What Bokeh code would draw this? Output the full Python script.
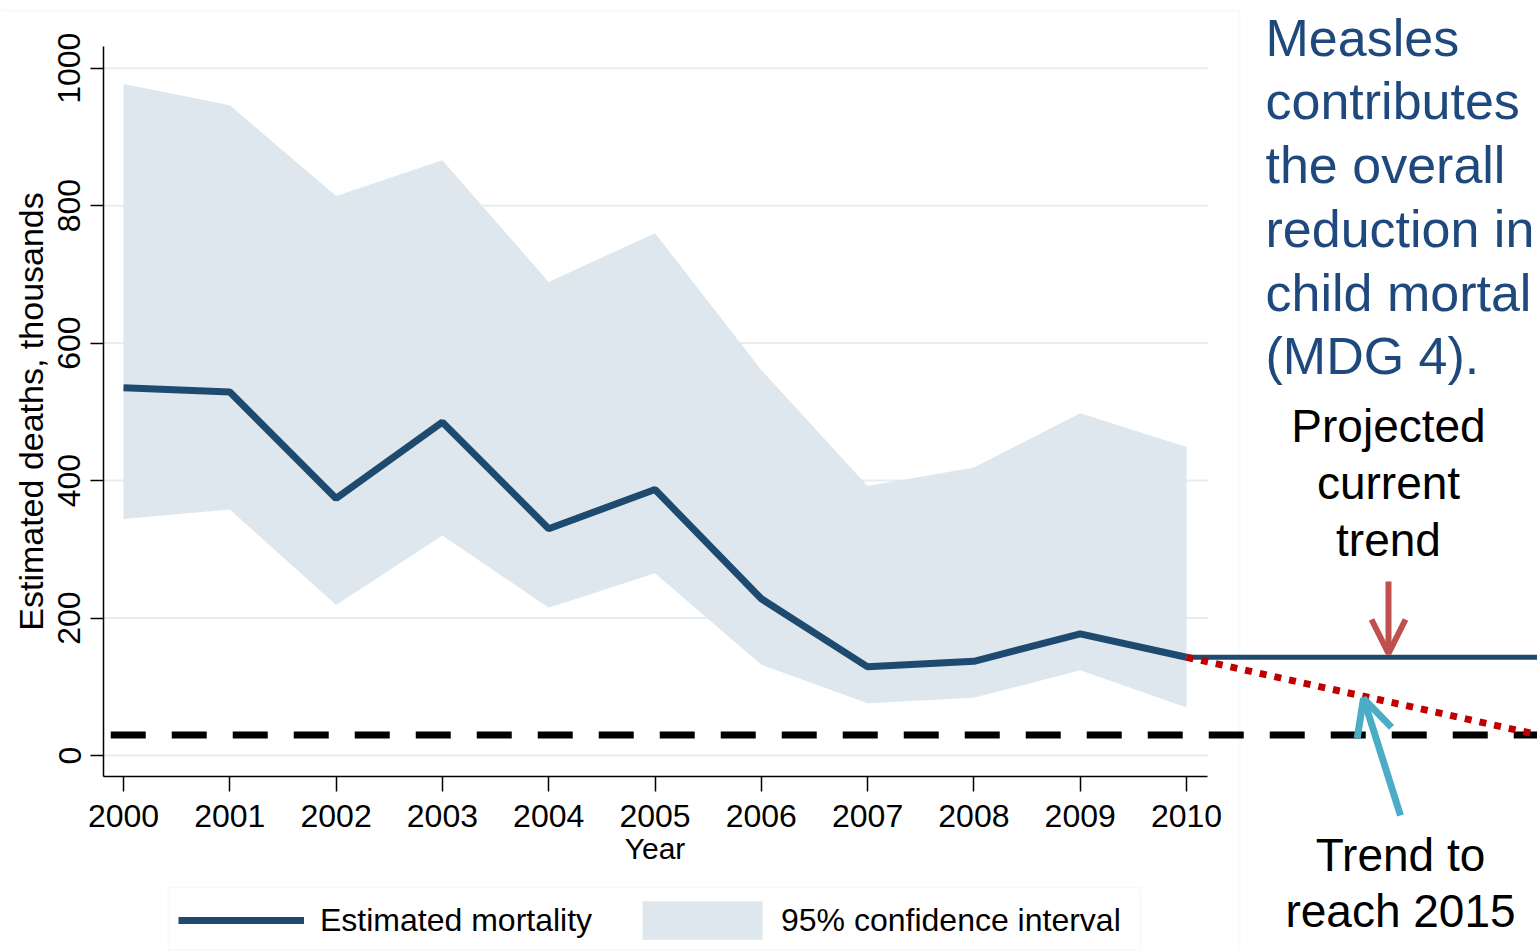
from bokeh.plotting import figure
from bokeh.models import (Legend, LegendItem, Label, Arrow, OpenHead,
                          Range1d, FixedTicker, BoxAnnotation)
from bokeh.embed import file_html
from bokeh.resources import INLINE

# ---------------- data ----------------
years = [2000, 2001, 2002, 2003, 2004, 2005, 2006, 2007, 2008, 2009, 2010]
mortality = [535, 529, 374, 485, 330, 387, 228, 129, 137, 177, 143]
ci_upper = [977, 946, 814, 866, 689, 760, 561, 392, 419, 498, 449]
ci_lower = [344, 358, 219, 320, 215, 265, 132, 76, 84, 124, 70]
y_ticks = [0, 200, 400, 600, 800, 1000]
target_x = [1999.88, 2013.4]
target_y = [30, 30]
proj_x = [2010, 2013.4]
proj_current = [143, 143]
proj_needed = [143, 27]

# ---------------- layout helpers (pixel -> data, for annotations) ----------------
W, H = 1537, 951
def dx(px):
    return 2000 + (px - 123) / 106.3
def dy(py):
    return (755 - py) / 0.6873
def base(py, size):
    # alphabetic baseline correction for rendered labels
    return dy(py - 0.38 * size)

FONT = "Liberation Sans"
LINE_C = "#1f4a6f"
FILL_C = "#dde7ed"
GRID_C = "#e4edf0"

p = figure(width=W, height=H,
           x_range=Range1d(dx(0), dx(W)), y_range=Range1d(dy(H), dy(0)),
           output_backend="svg", toolbar_location=None,
           min_border_left=0, min_border_right=0,
           min_border_top=0, min_border_bottom=0)
p.outline_line_color = None
p.background_fill_color = "white"
p.border_fill_color = "white"

# panel border (faint)
p.add_layout(BoxAnnotation(left=dx(-10), right=dx(1239), top=dy(10), bottom=dy(H + 10),
                           fill_alpha=0, line_color="#e6eef0", line_width=2,
                           level="underlay"))

# grid lines limited to the plot region
p.xgrid.visible = False
p.ygrid.visible = False
p.segment(x0=[dx(103)] * len(y_ticks), x1=[dx(1207)] * len(y_ticks),
          y0=y_ticks, y1=y_ticks, line_color=GRID_C, line_width=2, level="underlay")

# axes (drawn at fixed positions inside the canvas)
p.xaxis.ticker = FixedTicker(ticks=years)
p.xaxis.bounds = (dx(103), dx(1207))
p.xaxis.fixed_location = dy(776)
p.yaxis.ticker = FixedTicker(ticks=y_ticks)
p.yaxis.bounds = (dy(776), dy(46))
p.yaxis.fixed_location = dx(103)
for ax in (p.xaxis[0], p.yaxis[0]):
    ax.axis_line_color = "black"
    ax.axis_line_width = 1.5
    ax.major_tick_line_color = "black"
    ax.major_tick_line_width = 1.5
    ax.major_tick_in = 0
    ax.minor_tick_line_color = None
    ax.major_label_text_font = FONT
    ax.major_label_text_font_size = "32px"
    ax.major_label_text_color = "black"
p.xaxis.major_tick_out = 15
p.xaxis.major_label_standoff = 13
p.yaxis.major_tick_out = 13
p.yaxis.major_label_standoff = 10
p.yaxis.major_label_orientation = "vertical"
p.yaxis.axis_label = "Estimated deaths, thousands"
p.yaxis.axis_label_text_font = FONT
p.yaxis.axis_label_text_font_size = "34px"
p.yaxis.axis_label_text_font_style = "normal"
p.yaxis.axis_label_text_color = "black"
p.yaxis.axis_label_standoff = 6

# glyphs
band = p.varea(x=years, y1=ci_lower, y2=ci_upper, fill_color=FILL_C, fill_alpha=1)
line = p.line(x=years, y=mortality, line_color=LINE_C, line_width=7)
p.line(x=target_x, y=target_y, line_color="black", line_width=7, line_dash="35 26")
p.line(x=proj_x, y=proj_current, line_color=LINE_C, line_width=5)
p.line(x=proj_x, y=proj_needed, line_color="#c00000", line_width=7, line_dash="7 8")

# "Year" axis title centred under the axis span
p.add_layout(Label(x=2005, y=base(859, 30), text="Year", text_align="center",
                   text_baseline="alphabetic", text_font=FONT,
                   text_font_size="30px", text_color="black"))

# legend: frame + two entries
p.add_layout(BoxAnnotation(left=dx(168), right=dx(1140), top=dy(887), bottom=dy(950),
                           fill_color="white", fill_alpha=1,
                           line_color=GRID_C, line_width=2))
leg1 = Legend(items=[LegendItem(label="Estimated mortality", renderers=[line])],
              location=(178, 12), glyph_width=126, glyph_height=38,
              label_standoff=16, padding=0, margin=0,
              label_text_font=FONT, label_text_font_size="32px",
              label_text_color="black", border_line_color=None,
              background_fill_alpha=0)
leg2 = Legend(items=[LegendItem(label="95% confidence interval", renderers=[band])],
              location=(627, 7), glyph_width=150, glyph_height=48,
              label_standoff=4, padding=0, margin=0,
              label_text_font=FONT, label_text_font_size="32px",
              label_text_color="black", border_line_color=None,
              background_fill_alpha=0)
p.add_layout(leg1)
p.add_layout(leg2)

# right-hand commentary
blue_lines = ["Measles", "contributes", "the overall", "reduction in",
              "child mortal", "(MDG 4)."]
blue_base = [57, 120, 184, 248, 312, 375]
for t, b in zip(blue_lines, blue_base):
    p.add_layout(Label(x=dx(1265), y=base(b, 52), text=t, text_align="left",
                       text_baseline="alphabetic", text_font=FONT,
                       text_font_size="52px", text_color="#1f497d"))

for t, b in zip(["Projected", "current", "trend"], [443, 500, 557]):
    p.add_layout(Label(x=dx(1388), y=base(b, 46), text=t, text_align="center",
                       text_baseline="alphabetic", text_font=FONT,
                       text_font_size="46px", text_color="black"))

for t, b in zip(["Trend to", "reach 2015"], [872, 928]):
    p.add_layout(Label(x=dx(1400), y=base(b, 46), text=t, text_align="center",
                       text_baseline="alphabetic", text_font=FONT,
                       text_font_size="46px", text_color="black"))

# arrows
p.add_layout(Arrow(end=OpenHead(size=34, line_color="#c0504d", line_width=6),
                   x_start=dx(1388), y_start=dy(581), x_end=dx(1388), y_end=dy(653),
                   line_color="#c0504d", line_width=6))
p.add_layout(Arrow(end=OpenHead(size=36, line_color="#4bacc6", line_width=7),
                   x_start=dx(1400), y_start=dy(815), x_end=dx(1363), y_end=dy(698),
                   line_color="#4bacc6", line_width=7))

open("out.html", "w").write(file_html(p, INLINE))
